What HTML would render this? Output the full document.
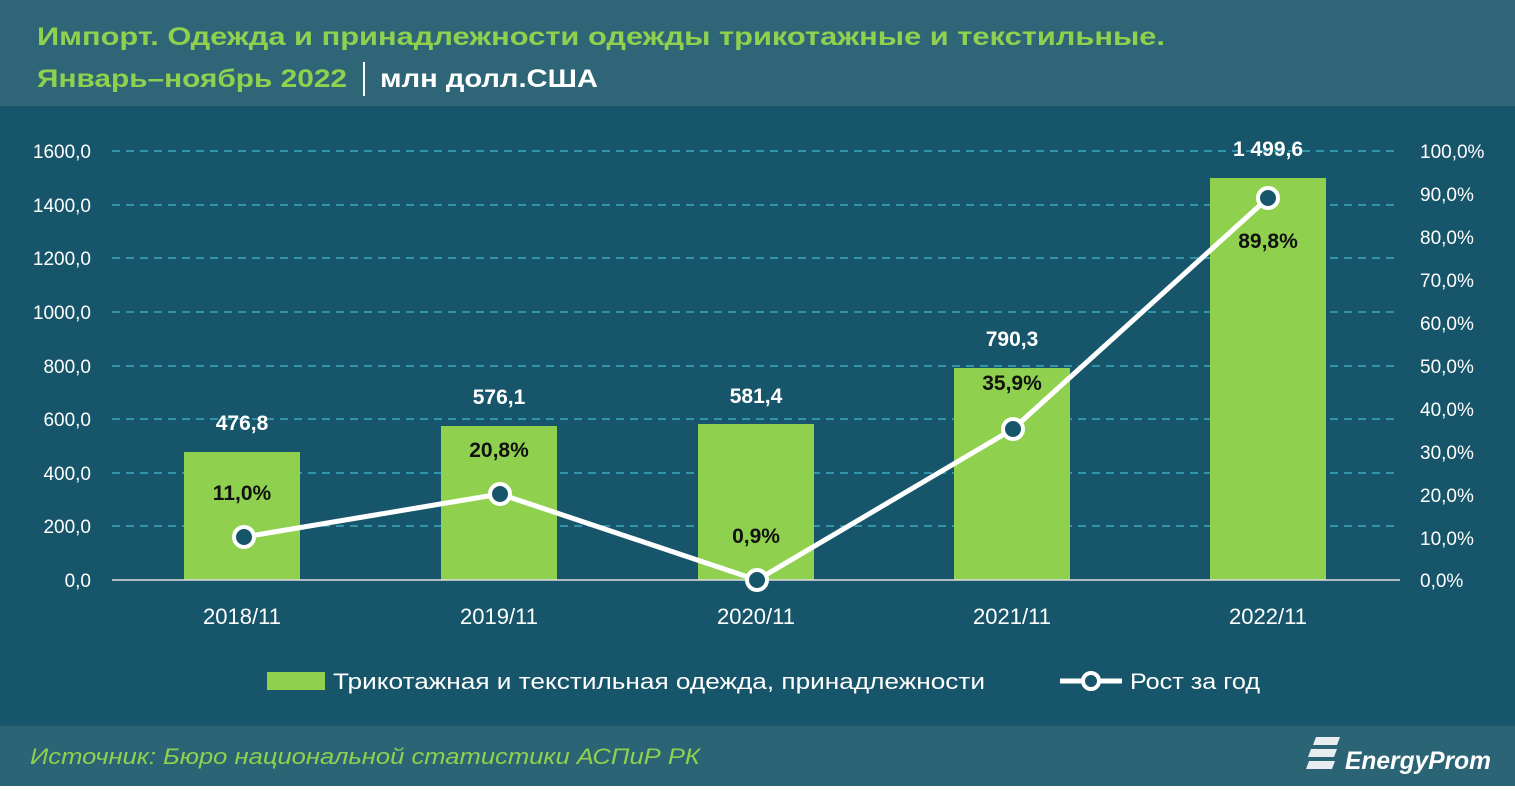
<!DOCTYPE html>
<html><head><meta charset="utf-8"><style>
body{margin:0;width:1515px;height:786px;overflow:hidden;font-family:"Liberation Sans",sans-serif}
</style></head><body>
<svg width="1515" height="786" xmlns="http://www.w3.org/2000/svg" font-family="Liberation Sans, sans-serif">
<rect width="1515" height="786" fill="#17566a"/>
<rect width="1515" height="106" fill="#2e6677"/>
<rect y="726" width="1515" height="60" fill="#2a6475"/>
<text x="37" y="45" font-size="25" font-weight="bold" fill="#8fd14f" textLength="1128" lengthAdjust="spacingAndGlyphs">Импорт. Одежда и принадлежности одежды трикотажные и текстильные.</text>
<text x="37" y="87" font-size="25" font-weight="bold" fill="#8fd14f" textLength="310" lengthAdjust="spacingAndGlyphs">Январь–ноябрь 2022</text>
<rect x="363" y="62" width="2" height="34" fill="#fff"/>
<text x="380" y="87" font-size="25" font-weight="bold" fill="#fff" textLength="218" lengthAdjust="spacingAndGlyphs">млн долл.США</text>
<g stroke="#3aa7bd" stroke-width="1.5" stroke-dasharray="8,6">
<line x1="112" x2="1400" y1="151" y2="151"/><line x1="112" x2="1400" y1="205" y2="205"/>
<line x1="112" x2="1400" y1="258" y2="258"/><line x1="112" x2="1400" y1="312" y2="312"/>
<line x1="112" x2="1400" y1="366" y2="366"/><line x1="112" x2="1400" y1="419" y2="419"/>
<line x1="112" x2="1400" y1="473" y2="473"/><line x1="112" x2="1400" y1="526" y2="526"/>
</g>
<g fill="#fff" font-size="19" text-anchor="end">
<text x="91" y="158">1600,0</text><text x="91" y="212">1400,0</text><text x="91" y="265">1200,0</text>
<text x="91" y="319">1000,0</text><text x="91" y="373">800,0</text><text x="91" y="426">600,0</text>
<text x="91" y="480">400,0</text><text x="91" y="533">200,0</text><text x="91" y="587">0,0</text>
</g>
<g fill="#fff" font-size="19">
<text x="1420" y="158">100,0%</text><text x="1420" y="201">90,0%</text><text x="1420" y="244">80,0%</text>
<text x="1420" y="287">70,0%</text><text x="1420" y="330">60,0%</text><text x="1420" y="373">50,0%</text>
<text x="1420" y="416">40,0%</text><text x="1420" y="459">30,0%</text><text x="1420" y="502">20,0%</text>
<text x="1420" y="545">10,0%</text><text x="1420" y="587">0,0%</text>
</g>
<g fill="#8fd14f">
<rect x="184" y="452" width="116" height="128"/><rect x="441" y="426" width="116" height="154"/>
<rect x="698" y="424" width="116" height="156"/><rect x="954" y="368" width="116" height="212"/>
<rect x="1210" y="178" width="116" height="402"/>
</g>
<line x1="112" x2="1400" y1="580" y2="580" stroke="#ddd" stroke-width="1.5"/>
<g fill="#fff" font-size="21" font-weight="bold" text-anchor="middle">
<text x="242" y="430">476,8</text><text x="499" y="404">576,1</text><text x="756" y="403">581,4</text>
<text x="1012" y="346">790,3</text><text x="1268" y="156">1 499,6</text>
</g>
<polyline points="244,537 500,494 757,580 1013,429 1268,198" fill="none" stroke="#fff" stroke-width="5"/>
<g fill="#17566a" stroke="#fff" stroke-width="4">
<circle cx="244" cy="537" r="10"/><circle cx="500" cy="494" r="10"/><circle cx="757" cy="580" r="10"/>
<circle cx="1013" cy="429" r="10"/><circle cx="1268" cy="198" r="10"/>
</g>
<g fill="#111" font-size="21" font-weight="bold" text-anchor="middle">
<text x="242" y="500">11,0%</text><text x="499" y="457">20,8%</text><text x="756" y="543">0,9%</text>
<text x="1012" y="390">35,9%</text><text x="1268" y="248">89,8%</text>
</g>
<g fill="#fff" font-size="22" text-anchor="middle">
<text x="242" y="624">2018/11</text><text x="499" y="624">2019/11</text><text x="756" y="624">2020/11</text>
<text x="1012" y="624">2021/11</text><text x="1268" y="624">2022/11</text>
</g>
<rect x="267" y="672" width="58" height="18" fill="#8fd14f"/>
<text x="333" y="689" fill="#fff" font-size="22" textLength="652" lengthAdjust="spacingAndGlyphs">Трикотажная и текстильная одежда, принадлежности</text>
<line x1="1060" x2="1122" y1="681" y2="681" stroke="#fff" stroke-width="5"/>
<circle cx="1091" cy="681" r="8" fill="#17566a" stroke="#fff" stroke-width="4"/>
<text x="1130" y="689" fill="#fff" font-size="22" textLength="130" lengthAdjust="spacingAndGlyphs">Рост за год</text>
<text x="30" y="764" fill="#8fd14f" font-size="22" font-style="italic" textLength="670" lengthAdjust="spacingAndGlyphs">Источник: Бюро национальной статистики АСПиР РК</text>
<g fill="#e8eef0"><path d="M1316,737 h24 l-3,8 h-24z"/><path d="M1311,749 h26 l-3,8 h-26z"/><path d="M1309,761 h26 l-3,8 h-26z"/></g>
<text x="1345" y="769" fill="#fff" font-size="25" font-style="italic" font-weight="bold" textLength="146" lengthAdjust="spacingAndGlyphs">EnergyProm</text>
</svg>
</body></html>
